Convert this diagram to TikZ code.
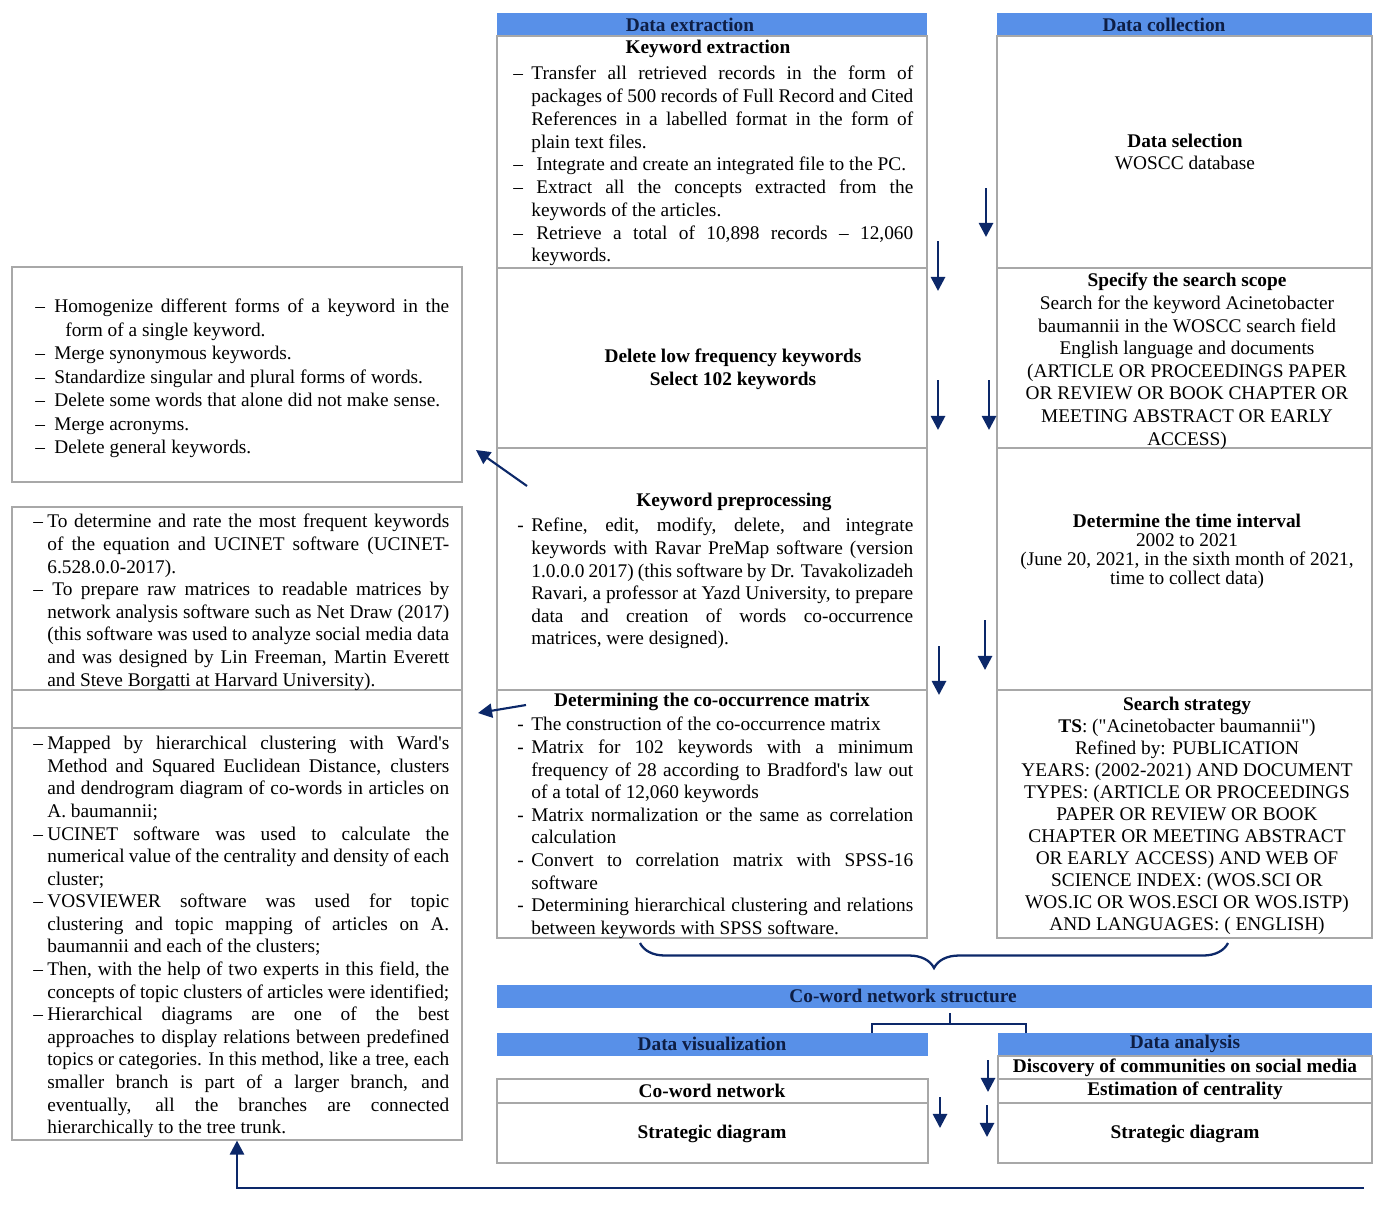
\documentclass[tikz,border=0pt]{standalone}
\usepackage{fontspec}
\setmainfont{Liberation Serif}
\usepackage{tikz}
\usetikzlibrary{arrows.meta,fit,decorations.pathreplacing}
\usepackage{xcolor}

\definecolor{barblue}{RGB}{88,144,232}
\definecolor{headink}{RGB}{14,30,68}
\definecolor{arrowblue}{RGB}{12,40,105}
\definecolor{rulegrey}{RGB}{168,168,168}

\newcommand\bodyfont{\fontsize{11}{12.85}\selectfont}
\newlength\dashind
\newcommand\ditem[2]{\noindent\hangindent=\dashind\hangafter=1\hbox to\dashind{#1\hfil}\ignorespaces#2\par}
\tolerance=9999 \hyphenpenalty=10000 \exhyphenpenalty=10000
\hbadness=10000 \hfuzz=10pt

\begin{document}
\begin{tikzpicture}[x=0.02cm,y=-0.02cm]
  \tikzset{cellbox/.style={draw=rulegrey,line width=0.6pt,inner sep=0pt}}
  \tikzset{headbar/.style={fill=barblue,draw=none,inner sep=0pt}}
  \tikzset{headtext/.style={font=\bodyfont\bfseries,text=headink,inner sep=0pt}}
  \tikzset{bodytext/.style={font=\bodyfont,inner sep=0pt,align=center}}
  \tikzset{boldtext/.style={font=\bodyfont\bfseries,inner sep=0pt,align=center}}
  \tikzset{listtext/.style={font=\bodyfont,inner sep=0pt,anchor=north west,text width=#1,align=justify}}
  \tikzset{dashhang/.style={execute at begin node={\setlength\dashind{#1}}}}
  \tikzset{flowarrow/.style={draw=arrowblue,line width=1.5pt,-{Triangle[length=8pt,width=8pt]}}}
  \tikzset{bracestroke/.style={draw=arrowblue,line width=1.3pt}}
  \useasboundingbox (0,0) rectangle (1381,1211);

  % headers
  \node[headbar,fit={(497,13) (927,36)}] (extracthead) {};
  \node[headtext] (extractlabel) at (690,25) {Data extraction};
  \node[headbar,fit={(997,13) (1372,36)}] (collecthead) {};
  \node[headtext] (collectlabel) at (1164,25) {Data collection};

  % data extraction column
  \node[cellbox,fit={(497,36) (927,268)}] (extractbox) {};
  \node[cellbox,fit={(497,268) (927,448)}] (lowfreqbox) {};
  \node[cellbox,fit={(497,448) (927,690)}] (prepbox) {};
  \node[cellbox,fit={(497,690) (927,938)}] (matrixbox) {};

  \node[boldtext] (extracttitle) at (708,49) {Keyword extraction};
  \node[listtext=8cm,dashhang=0.36cm,font=\fontsize{11}{12.95}\selectfont] (extractlist) at (513,66) {%
    \ditem{--}{Transfer all retrieved records in the form of \linebreak packages of 500 records of Full Record and Cited \linebreak References in a labelled format in the form of \linebreak plain text files.}
    \ditem{--}{\hspace*{0.1cm}Integrate and create an integrated file to the PC.}
    \ditem{--}{\hspace*{0.1cm}Extract all the concepts extracted from the \linebreak keywords of the articles.}
    \ditem{--}{\hspace*{0.1cm}Retrieve a total of 10,898 records -- 12,060 \linebreak keywords.}};
  \node[boldtext] (lowfreqtext) at (733,369) {Delete low frequency keywords\\Select 102 keywords};
  \node[boldtext] (preptitle) at (734,502) {Keyword preprocessing};
  \node[listtext=7.92cm,dashhang=0.28cm] (preplist) at (517,518) {%
    \ditem{-}{Refine, edit, modify, delete, and integrate \linebreak keywords with Ravar PreMap software (version \linebreak 1.0.0.0 2017) (this software by Dr. Tavakolizadeh \linebreak Ravari, a professor at Yazd University, to prepare \linebreak data and creation of words co-occurrence \linebreak matrices, were designed).}};
  \node[boldtext] (matrixtitle) at (712,702) {Determining the co-occurrence matrix};
  \node[listtext=7.92cm,dashhang=0.28cm] (matrixlist) at (517,717) {%
    \ditem{-}{The construction of the co-occurrence matrix}
    \ditem{-}{Matrix for 102 keywords with a minimum \linebreak frequency of 28 according to Bradford\textquotesingle s law out \linebreak of a total of 12,060 keywords}
    \ditem{-}{Matrix normalization or the same as correlation \linebreak calculation}
    \ditem{-}{Convert to correlation matrix with SPSS-16 \linebreak software}
    \ditem{-}{Determining hierarchical clustering and relations \linebreak between keywords with SPSS software.}};

  % data collection column
  \node[cellbox,fit={(997,36) (1372,268)}] (selectbox) {};
  \node[cellbox,fit={(997,268) (1372,448)}] (scopebox) {};
  \node[cellbox,fit={(997,448) (1372,690)}] (intervalbox) {};
  \node[cellbox,fit={(997,690) (1372,938)}] (strategybox) {};

  \node[bodytext] (selecttext) at (1185,152) {\textbf{Data selection}\\WOSCC database};
  \node[bodytext,anchor=north] (scopetext) at (1187,273) {\textbf{Specify the search scope}\\Search for the keyword Acinetobacter\\baumannii in the WOSCC search field\\English language and documents\\(ARTICLE OR PROCEEDINGS PAPER\\OR REVIEW OR BOOK CHAPTER OR\\MEETING ABSTRACT OR EARLY\\ACCESS)};
  \node[bodytext,anchor=north,font=\fontsize{11}{10.8}\selectfont] (intervaltext) at (1187,514) {\textbf{Determine the time interval}\\2002 to 2021\\(June 20, 2021, in the sixth month of 2021,\\time to collect data)};
  \node[bodytext,anchor=north,font=\fontsize{11}{12.5}\selectfont] (strategytext) at (1187,697) {\textbf{Search strategy}\\\textbf{TS}: (\textquotedbl Acinetobacter baumannii\textquotedbl)\\Refined by: PUBLICATION\\YEARS: (2002-2021) AND DOCUMENT\\TYPES: (ARTICLE OR PROCEEDINGS\\PAPER OR REVIEW OR BOOK\\CHAPTER OR MEETING ABSTRACT\\OR EARLY ACCESS) AND WEB OF\\SCIENCE INDEX: (WOS.SCI OR\\WOS.IC OR WOS.ESCI OR WOS.ISTP)\\AND LANGUAGES: ( ENGLISH)};

  % left notes
  \node[cellbox,fit={(12,267) (462,482)}] (cleanbox) {};
  \node[cellbox,fit={(12,507) (462,690)}] (ucinetbox) {};
  \node[cellbox,fit={(12,690) (462,728)}] (gapbox) {};
  \node[cellbox,fit={(12,728) (462,1140)}] (mapbox) {};

  \node[listtext=8.28cm,dashhang=0.38cm,font=\fontsize{11}{13.35}\selectfont] (cleanlist) at (35,299) {%
    \ditem{--}{Homogenize different forms of a keyword in the \linebreak\hspace*{0.22cm}form of a single keyword.}
    \ditem{--}{Merge synonymous keywords.}
    \ditem{--}{Standardize singular and plural forms of words.}
    \ditem{--}{Delete some words that alone did not make sense.}
    \ditem{--}{Merge acronyms.}
    \ditem{--}{Delete general keywords.}};
  \node[listtext=8.32cm,dashhang=0.28cm] (ucinetlist) at (33,514) {%
    \ditem{--}{To determine and rate the most frequent keywords \linebreak of the equation and UCINET software (UCINET-\linebreak 6.528.0.0-2017).}
    \ditem{--}{\hspace*{0.1cm}To prepare raw matrices to readable matrices by \linebreak network analysis software such as Net Draw (2017) \linebreak (this software was used to analyze social media data \linebreak and was designed by Lin Freeman, Martin Everett \linebreak and Steve Borgatti at Harvard University).}};
  \node[listtext=8.32cm,dashhang=0.28cm] (maplist) at (33,736) {%
    \ditem{--}{Mapped by hierarchical clustering with Ward\textquotesingle s \linebreak Method and Squared Euclidean Distance, clusters \linebreak and dendrogram diagram of co-words in articles on \linebreak A. baumannii;}
    \ditem{--}{UCINET software was used to calculate the \linebreak numerical value of the centrality and density of each \linebreak cluster;}
    \ditem{--}{VOSVIEWER software was used for topic \linebreak clustering and topic mapping of articles on A. \linebreak baumannii and each of the clusters;}
    \ditem{--}{Then, with the help of two experts in this field, the \linebreak concepts of topic clusters of articles were identified;}
    \ditem{--}{Hierarchical diagrams are one of the best \linebreak approaches to display relations between predefined \linebreak topics or categories. In this method, like a tree, each \linebreak smaller branch is part of a larger branch, and \linebreak eventually, all the branches are connected \linebreak hierarchically to the tree trunk.}};

  % co-word network structure
  \node[headbar,fit={(497,985) (1372,1008)}] (networkbar) {};
  \node[headtext] (networklabel) at (903,996) {Co-word network structure};
  \node[headbar,fit={(497,1033) (928,1056)}] (vizhead) {};
  \node[headtext] (vizlabel) at (712,1044) {Data visualization};
  \node[headbar,fit={(998,1033) (1372,1056)}] (anahead) {};
  \node[headtext] (analabel) at (1185,1044) {Data analysis};

  \node[cellbox,fit={(497,1079) (928,1103)}] (cowordbox) {};
  \node[cellbox,fit={(497,1103) (928,1163)}] (vizstratbox) {};
  \node[cellbox,fit={(998,1056) (1372,1079)}] (commbox) {};
  \node[cellbox,fit={(998,1079) (1372,1103)}] (centralbox) {};
  \node[cellbox,fit={(998,1103) (1372,1163)}] (anastratbox) {};
  \node[boldtext] (cowordtext) at (712,1091) {Co-word network};
  \node[boldtext] (vizstrattext) at (712,1134) {Strategic diagram};
  \node[boldtext] (commtext) at (1185,1068) {Discovery of communities on social media};
  \node[boldtext] (centraltext) at (1185,1091) {Estimation of centrality};
  \node[boldtext] (anastrattext) at (1185,1134) {Strategic diagram};

  % arrows between the columns
  \foreach \n/\x/\ya/\yb in {1/986/188/237, 2/938/241/291, 3/938/380/430, 4/989/380/430,
                             5/985/620/670, 6/939/646/695, 7/988/1060/1092, 8/940/1097/1128, 9/987/1105/1137}
  {
    \coordinate (down\n a) at (\x,\ya);
    \coordinate (down\n b) at (\x,\yb);
    \draw[flowarrow] (down\n a) -- (down\n b);
  }
  \coordinate (prepfrom) at (527,486);
  \coordinate (prepto) at (476,450);
  \draw[flowarrow,line width=1.2pt] (prepfrom) -- (prepto);
  \coordinate (matrixfrom) at (526,705);
  \coordinate (matrixto) at (478,713);
  \draw[flowarrow,line width=1.2pt] (matrixfrom) -- (matrixto);

  % brace and split
  \coordinate (braceL) at (640,943);
  \coordinate (braceR) at (1228,943);
  \draw[bracestroke,decorate,decoration={brace,mirror,amplitude=0.5cm}] (braceL) -- (braceR);
  \coordinate (splitL) at (872,1033);
  \coordinate (splitR) at (1026,1033);
  \coordinate (splittop) at (950,1013);
  \draw[bracestroke] (splitL) -- ++(0,-9) -| (splitR);
  \draw[bracestroke] (splittop) -- ++(0,11);

  % back to the mapping notes
  \coordinate (returnstart) at (1364,1188);
  \draw[flowarrow] (returnstart) -| (mapbox.south);
\end{tikzpicture}
\end{document}
